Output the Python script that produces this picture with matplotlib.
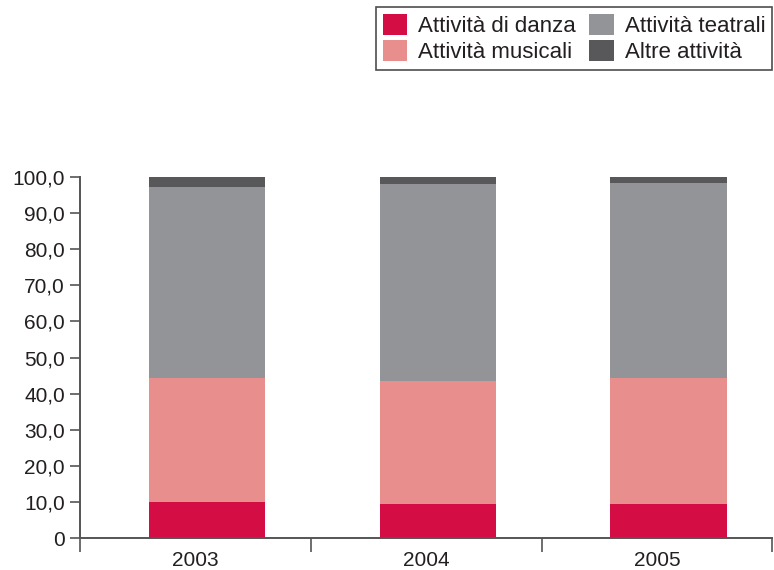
import numpy as np
import matplotlib
matplotlib.use("Agg")
import matplotlib.pyplot as plt
from matplotlib.ticker import FixedLocator, FuncFormatter

# Data (percent shares, stacked)
years = ["2003", "2004", "2005"]
danza = [10.0, 9.4, 9.4]
musicali = [34.3, 34.1, 34.9]
teatrali = [52.9, 54.6, 54.0]
altre = [2.8, 1.9, 1.7]

series_names = ["Attività di danza", "Attività musicali", "Attività teatrali", "Altre attività"]
colors = ["#D40E44", "#E88E8C", "#939497", "#58585A"]

plt.rcParams["font.family"] = ["Liberation Sans", "DejaVu Sans"]
text_color = "#231F20"
axis_color = "#555555"

fig = plt.figure(figsize=(7.74, 5.70), dpi=100)
ax = fig.add_axes([0.1034, 0.0561, 0.8946, 0.6334])

x = np.arange(len(years)) + 0.05
bottom = np.zeros(len(years))
handles = []
for name, vals, col in zip(series_names, [danza, musicali, teatrali, altre], colors):
    b = ax.bar(x, vals, width=0.505, bottom=bottom, color=col, label=name, linewidth=0)
    handles.append(b)
    bottom += np.array(vals)

ax.set_xlim(-0.5, 2.5)
ax.set_ylim(0, 100)

# y axis
ax.set_yticks(np.arange(0, 101, 10))
ax.yaxis.set_major_formatter(FuncFormatter(lambda v, p: "0" if v == 0 else f"{v:.1f}".replace(".", ",")))
ax.tick_params(axis="y", direction="out", length=7, width=1.2, color=axis_color,
               labelsize=15, labelcolor=text_color, pad=4)

# x axis: ticks at category boundaries, labels at centers
ax.xaxis.set_major_locator(FixedLocator([-0.5, 0.5, 1.5, 2.5]))
ax.xaxis.set_minor_locator(FixedLocator([0, 1, 2]))
ax.set_xticklabels([], minor=False)
ax.set_xticklabels(years, minor=True)
ax.tick_params(axis="x", which="major", direction="out", length=10, width=1.2, color=axis_color)
ax.tick_params(axis="x", which="minor", length=0, labelsize=15, labelcolor=text_color, pad=9)

for s in ["top", "right"]:
    ax.spines[s].set_visible(False)
for s in ["left", "bottom"]:
    ax.spines[s].set_color(axis_color)
    ax.spines[s].set_linewidth(1.4)

leg = fig.legend(handles=handles, labels=series_names, ncol=2, loc="upper left",
                 bbox_to_anchor=(0.486, 0.988), bbox_transform=fig.transFigure,
                 fontsize=16, frameon=True, fancybox=False, edgecolor="#231F20",
                 handlelength=1.1, handleheight=1.1, handletextpad=0.5,
                 columnspacing=0.6, labelspacing=0.15, borderpad=0.3,
                 borderaxespad=0)
leg.get_frame().set_linewidth(1.2)
for t in leg.get_texts():
    t.set_color(text_color)

fig.savefig("out.png", dpi=100)
